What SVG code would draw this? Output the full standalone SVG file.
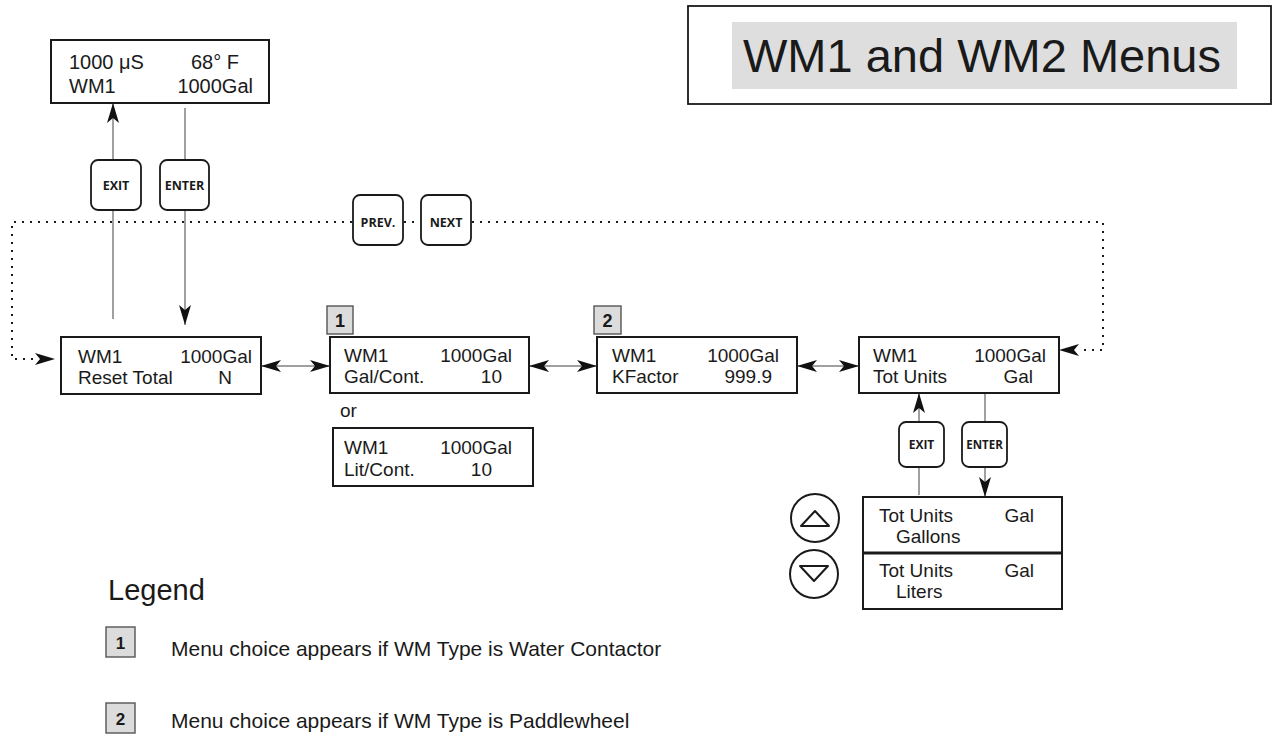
<svg xmlns="http://www.w3.org/2000/svg" width="1273" height="734" viewBox="0 0 1273 734">
<style>
text{font-family:"Liberation Sans",Arial,sans-serif;fill:#1a1a1a}
.t{font-size:19px}
.tt{font-size:20px}
.e{text-anchor:end}
.box{fill:#fff;stroke:#1a1a1a;stroke-width:2}
.btn{fill:#fff;stroke:#1a1a1a;stroke-width:1.8}
.bl{font-family:"Open Sans","DejaVu Sans",sans-serif;font-weight:bold;font-size:12.5px;text-anchor:middle}
.badge{fill:#dcdcdc;stroke:#555;stroke-width:1.4}
.bn{font-weight:bold;text-anchor:middle}
.ln{fill:none;stroke:#808080;stroke-width:1.5}
.dot{fill:none;stroke:#1a1a1a;stroke-width:2;stroke-dasharray:2 6}
.leg{font-size:21px}
</style>
<defs>
<marker id="ah" viewBox="0 0 20 12" refX="20" refY="6" markerWidth="20" markerHeight="12" markerUnits="userSpaceOnUse" orient="auto-start-reverse">
<path d="M0,0 L20,6 L0,12 L5,6 z" fill="#111"/>
</marker>
</defs>
<rect width="1273" height="734" fill="#fff"/>

<g id="title">
<rect x="688" y="6" width="583" height="98" fill="#fff" stroke="#1a1a1a" stroke-width="1.8"/>
<rect x="732" y="22" width="505" height="67" fill="#dedede"/>
<text x="743" y="72" style="font-size:47px">WM1 and WM2 Menus</text>
</g>

<g id="connectors">
<path class="ln" d="M113,319 V103" marker-end="url(#ah)"/>
<path class="ln" d="M185,108 V325" marker-end="url(#ah)"/>
<path class="ln" d="M261,366 H330" marker-start="url(#ah)" marker-end="url(#ah)"/>
<path class="ln" d="M529,366 H597" marker-start="url(#ah)" marker-end="url(#ah)"/>
<path class="ln" d="M797,366 H859" marker-start="url(#ah)" marker-end="url(#ah)"/>
<path class="ln" d="M919,495 V393" marker-end="url(#ah)"/>
<path class="ln" d="M985,393 V497" marker-end="url(#ah)"/>
<path class="dot" d="M352,222 H12 V359 H34"/>
<path d="M35,359 H55" fill="none" stroke="none" marker-end="url(#ah)"/>
<path class="dot" d="M404,222 H420"/>
<path class="dot" d="M472,222 H1103 V350 H1080"/>
<path d="M1079,350 H1059" fill="none" stroke="none" marker-end="url(#ah)"/>
</g>

<g id="main-display">
<rect class="box" x="51" y="40" width="218" height="63"/>
<text class="tt" x="69" y="69">1000 μS</text>
<text class="tt" x="191" y="69">68° F</text>
<text class="tt" x="69" y="93">WM1</text>
<text class="tt e" x="253" y="93">1000Gal</text>
</g>

<g id="btn-exit-top">
<rect class="btn" x="91" y="160" width="50" height="50" rx="7"/>
<text class="bl" x="116" y="189.5">EXIT</text>
</g>
<g id="btn-enter-top">
<rect class="btn" x="160" y="160" width="49" height="50" rx="7"/>
<text class="bl" x="184.5" y="189.5">ENTER</text>
</g>
<g id="btn-prev">
<rect class="btn" x="353" y="195" width="50" height="50" rx="7"/>
<text class="bl" x="378" y="226.5">PREV.</text>
</g>
<g id="btn-next">
<rect class="btn" x="421" y="195" width="50" height="50" rx="7"/>
<text class="bl" x="446" y="226.5">NEXT</text>
</g>

<g id="reset-total">
<rect class="box" x="61" y="337" width="200" height="57"/>
<text class="t" x="78" y="363">WM1</text>
<text class="t e" x="252" y="363">1000Gal</text>
<text class="t" x="78" y="384">Reset Total</text>
<text class="t e" x="232" y="384">N</text>
</g>

<g id="gal-cont">
<rect class="badge" x="327" y="306" width="26" height="28"/>
<text class="bn" x="340" y="327" style="font-size:18px">1</text>
<rect class="box" x="330" y="337" width="199" height="56"/>
<text class="t" x="344" y="362">WM1</text>
<text class="t e" x="512" y="362">1000Gal</text>
<text class="t" x="344" y="383">Gal/Cont.</text>
<text class="t e" x="502" y="383">10</text>
</g>

<g id="or-label">
<text class="t" x="340" y="417">or</text>
</g>

<g id="lit-cont">
<rect class="box" x="333" y="428" width="200" height="58"/>
<text class="t" x="344" y="454">WM1</text>
<text class="t e" x="512" y="454">1000Gal</text>
<text class="t" x="344" y="476">Lit/Cont.</text>
<text class="t e" x="492" y="476">10</text>
</g>

<g id="kfactor">
<rect class="badge" x="594" y="306" width="27" height="28"/>
<text class="bn" x="607.5" y="327" style="font-size:18px">2</text>
<rect class="box" x="597" y="337" width="200" height="56"/>
<text class="t" x="612" y="362">WM1</text>
<text class="t e" x="779" y="362">1000Gal</text>
<text class="t" x="612" y="383">KFactor</text>
<text class="t e" x="772" y="383">999.9</text>
</g>

<g id="tot-units">
<rect class="box" x="859" y="337" width="200" height="56"/>
<text class="t" x="873" y="362">WM1</text>
<text class="t e" x="1046" y="362">1000Gal</text>
<text class="t" x="873" y="383">Tot Units</text>
<text class="t e" x="1033" y="383">Gal</text>
</g>

<g id="btn-exit-tot">
<rect class="btn" x="899" y="422" width="45" height="45" rx="7"/>
<text class="bl" x="921.5" y="448.5" style="font-size:12px">EXIT</text>
</g>
<g id="btn-enter-tot">
<rect class="btn" x="962" y="422" width="45" height="45" rx="7"/>
<text class="bl" x="984.5" y="448.5" style="font-size:11.5px">ENTER</text>
</g>

<g id="gallons">
<rect class="box" x="863" y="497" width="199" height="56"/>
<text class="t" x="879" y="522">Tot Units</text>
<text class="t e" x="1034" y="522">Gal</text>
<text class="t" x="896" y="543">Gallons</text>
</g>
<g id="liters">
<rect class="box" x="863" y="553" width="199" height="56"/>
<line x1="863" y1="553" x2="1062" y2="553" stroke="#1a1a1a" stroke-width="3"/>
<text class="t" x="879" y="577">Tot Units</text>
<text class="t e" x="1034" y="577">Gal</text>
<text class="t" x="896" y="598">Liters</text>
</g>

<g id="btn-up">
<circle cx="815" cy="518" r="24" fill="#fff" stroke="#1a1a1a" stroke-width="2"/>
<path d="M801,526 H829 L815,511 z" fill="none" stroke="#1a1a1a" stroke-width="2" stroke-linejoin="round"/>
</g>
<g id="btn-down">
<circle cx="814" cy="574" r="24" fill="#fff" stroke="#1a1a1a" stroke-width="2"/>
<path d="M800,566 H828 L814,581 z" fill="none" stroke="#1a1a1a" stroke-width="2" stroke-linejoin="round"/>
</g>

<g id="legend">
<text x="108" y="600" style="font-size:29px">Legend</text>
<rect class="badge" x="106" y="627" width="29" height="30"/>
<text class="bn" x="120.5" y="649" style="font-size:17px">1</text>
<text class="leg" x="171" y="656">Menu choice appears if WM Type is Water Contactor</text>
<rect class="badge" x="106" y="703" width="29" height="30"/>
<text class="bn" x="120.5" y="725" style="font-size:17px">2</text>
<text class="leg" x="171" y="728">Menu choice appears if WM Type is Paddlewheel</text>
</g>
</svg>
